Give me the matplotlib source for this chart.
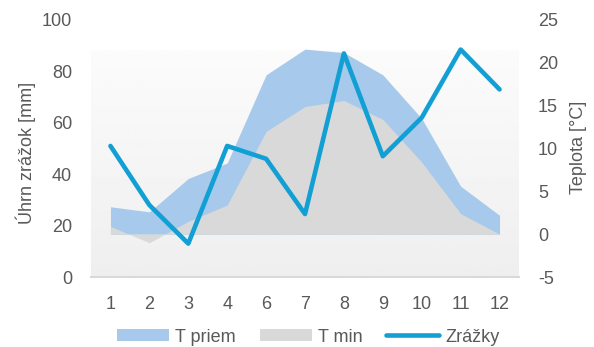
import matplotlib.pyplot as plt
from matplotlib.patches import Patch
from matplotlib.lines import Line2D
import numpy as np

plt.rcParams['font.family'] = ['Liberation Sans', 'DejaVu Sans']
plt.rcParams['axes.unicode_minus'] = False

# mesiace (bez mája), zrážky v mm, teploty v °C
mesiace = ['1', '2', '3', '4', '6', '7', '8', '9', '10', '11', '12']
zrazky = [51, 28, 13, 51, 46, 24.5, 87, 47, 62, 88.5, 73]
t_priem = [3.2, 2.6, 6.5, 8.3, 18.6, 21.6, 21.2, 18.6, 13.5, 5.6, 2.2]
t_min = [0.9, -1.0, 1.5, 3.4, 12.0, 14.9, 15.6, 13.4, 8.4, 2.4, 0.0]

txt = '#595959'
modra = '#A7C9EB'
seda = '#D9D9D9'
ciara = '#12A0D4'

fig = plt.figure(figsize=(5.94, 3.47), dpi=100)
ax = fig.add_axes([91/594, 1-277/347, 428/594, 257/347])
ax2 = ax.twinx()
ax.set_zorder(ax2.get_zorder() + 1)
ax.patch.set_visible(False)

x = np.arange(len(mesiace))

# jemný prechod pozadia
grad = np.linspace(0.985, 0.935, 100).reshape(-1, 1)
ax2.imshow(grad, cmap='gray', vmin=0, vmax=1, aspect='auto',
           extent=[0, 1, 0, 227/257], transform=ax2.transAxes, zorder=0)

# teploty ako plochy (pravá os)
ax2.fill_between(x, 0, t_priem, color=modra, lw=0, zorder=1)
ax2.fill_between(x, 0, t_min, color=seda, lw=0, zorder=2)
ax2.set_ylim(-5, 25)
ax2.set_yticks(range(-5, 26, 5))

# zrážky ako čiara (ľavá os)
ax.plot(x, zrazky, color=ciara, lw=3.3, solid_capstyle='round', solid_joinstyle='round')
ax.set_ylim(0, 100)
ax.set_yticks(range(0, 101, 20))
ax.set_xlim(-0.5, len(mesiace) - 0.5)
ax.set_xticks(x)
ax.set_xticklabels(mesiace)

for a in (ax, ax2):
    for s in a.spines.values():
        s.set_visible(False)
    a.tick_params(length=0, labelsize=13, colors=txt, pad=13.7)
ax.spines['bottom'].set_visible(True)
ax.spines['bottom'].set_color(seda)
ax.spines['bottom'].set_linewidth(1.5)

ax.set_ylabel('Úhrn zrážok [mm]', fontsize=13, color=txt)
ax.yaxis.set_label_coords(-55/428, 0.4825)
ax2.set_ylabel('Teplota [°C]', fontsize=13, color=txt)
ax2.yaxis.set_label_coords(479/428, 0.506)

handles = [Patch(color=modra, lw=0), Patch(color=seda, lw=0),
           Line2D([], [], color=ciara, lw=3.3, solid_capstyle='round')]
fig.legend(handles, ['T priem', 'T min', 'Zrážky'], loc='center', ncol=3,
           bbox_to_anchor=(308/594, 1-337/347), frameon=False, fontsize=13,
           labelcolor=txt, handlelength=2.9, handleheight=0.6,
           handletextpad=0.35, columnspacing=1.3, borderpad=0)

fig.savefig('out.png', dpi=100)
